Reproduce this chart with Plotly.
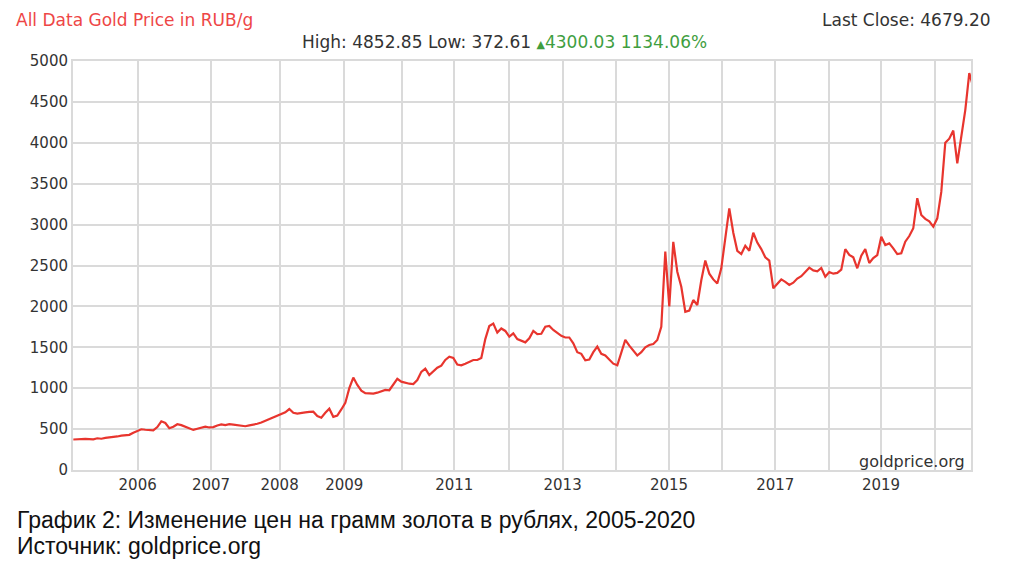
import plotly.graph_objects as go

# Gold price in RUB per gram at equal sample steps
prices = [
    373, 378, 376, 380, 378, 375, 388, 382, 392, 396,
    400, 410, 420, 424, 430, 456, 481, 498, 492, 485,
    485, 525, 595, 575, 510, 530, 560, 548, 530, 515,
    490, 505, 522, 530, 520, 525, 545, 558, 550, 560,
    555, 548, 540, 535, 545, 552, 565, 580, 600, 625,
    640, 665, 690, 705, 745, 700, 690, 693, 705, 710,
    713, 660, 640, 700, 750, 650, 665, 740, 820, 1000,
    1130, 1040, 970, 940, 937, 935, 945, 965, 980, 975,
    1040, 1115, 1080, 1065, 1055, 1050, 1100, 1200, 1240, 1160,
    1210, 1250, 1275, 1345, 1385, 1370, 1290, 1280, 1300, 1320,
    1345, 1345, 1370, 1600, 1760, 1790, 1680, 1730, 1700, 1630,
    1671, 1600, 1575, 1560, 1610, 1700, 1660, 1665, 1752, 1760,
    1712, 1680, 1640, 1620, 1620, 1549, 1440, 1420, 1340, 1350,
    1440, 1508, 1420, 1400, 1350, 1300, 1280, 1450, 1590, 1520,
    1460, 1400, 1440, 1500, 1528, 1540, 1589, 1750, 2669, 2000,
    2790, 2424, 2240, 1935, 1950, 2078, 2017, 2320, 2560, 2400,
    2330, 2280, 2466, 2850, 3199, 2900, 2680, 2640, 2740, 2680,
    2900, 2780, 2700, 2600, 2560, 2221, 2282, 2330, 2300, 2262,
    2290, 2340, 2370, 2420, 2474, 2440, 2430, 2470, 2363, 2420,
    2400, 2410, 2450, 2700, 2630, 2600, 2466, 2620, 2700, 2530,
    2590, 2628, 2852, 2750, 2770, 2710, 2640, 2650, 2791, 2860,
    2955, 3322, 3117, 3070, 3040, 2974, 3077, 3400, 4000, 4050,
    4150, 3750, 4050, 4400, 4852.85, 4679.20,
]

# sample index where each year starts (the source chart is not linear in time)
year_start_idx = [16.08, 34.43, 51.58, 67.75, 82.18, 95.25, 108.83, 122.33,
                  135.75, 148.93, 162.18, 175.5, 188.83, 201.93, 215.5]
year_labels = ['2006', '2007', '2008', '2009', '', '2011', '', '2013',
               '', '2015', '', '2017', '', '2019', '']

y_ticks = [0, 500, 1000, 1500, 2000, 2500, 3000, 3500, 4000, 4500, 5000]

font_main = 'DejaVu Sans'
grid_col = '#dadada'
txt_col = '#333333'

fig = go.Figure()
fig.add_trace(go.Scatter(
    x=list(range(len(prices))), y=prices,
    mode='lines', line=dict(color='#e8352e', width=2.2),
    hoverinfo='skip', showlegend=False
))

# header
fig.add_annotation(x=-0.066, y=1.10, xref='paper', yref='paper',
                   xanchor='left', yanchor='middle', showarrow=False,
                   text='All Data Gold Price in RUB/g',
                   font=dict(family=font_main, size=17, color='#ee4646'))
fig.add_annotation(x=1.0245, y=1.10, xref='paper', yref='paper',
                   xanchor='right', yanchor='middle', showarrow=False,
                   text='Last Close: 4679.20',
                   font=dict(family=font_main, size=17, color=txt_col))
fig.add_annotation(x=0.48, y=1.046, xref='paper', yref='paper',
                   xanchor='center', yanchor='middle', showarrow=False,
                   text="High: 4852.85 Low: 372.61 <span style='color:#3f9e3f'>"
                        "<span style='font-size:11px'>▲</span>4300.03 1134.06%</span>",
                   font=dict(family=font_main, size=17, color=txt_col))
fig.add_annotation(x=0.9955, y=0.022, xref='paper', yref='paper',
                   xanchor='right', yanchor='middle', showarrow=False,
                   text='goldprice.org',
                   font=dict(family=font_main, size=16, color=txt_col))

# caption under the chart
fig.add_annotation(x=-0.0646, y=-0.122, xref='paper', yref='paper',
                   xanchor='left', yanchor='middle', showarrow=False,
                   text='График 2: Изменение цен на грамм золота в рублях, 2005-2020',
                   font=dict(family='Liberation Sans', size=23, color='#111111'))
fig.add_annotation(x=-0.0646, y=-0.186, xref='paper', yref='paper',
                   xanchor='left', yanchor='middle', showarrow=False,
                   text='Источник: goldprice.org',
                   font=dict(family='Liberation Sans', size=23, color='#111111'))

fig.update_xaxes(
    range=[-0.08, 224.43], tickvals=year_start_idx, ticktext=year_labels,
    showgrid=True, gridcolor=grid_col, gridwidth=2,
    showline=True, linecolor=grid_col, linewidth=2, mirror=True,
    zeroline=False, ticks='', tickfont=dict(family=font_main, size=15, color=txt_col)
)
fig.update_yaxes(
    range=[0, 5000], tickvals=y_ticks,
    showgrid=True, gridcolor=grid_col, gridwidth=2,
    showline=True, linecolor=grid_col, linewidth=2, mirror=True,
    zeroline=False, ticks='', tickfont=dict(family=font_main, size=15, color=txt_col)
)

# page body has an 8px margin, so the figure is 8px smaller than the window
fig.update_layout(
    width=1003, height=555,
    margin=dict(l=65, r=40, t=53, b=93),
    paper_bgcolor='white', plot_bgcolor='white',
)

fig.write_html('out.html')
